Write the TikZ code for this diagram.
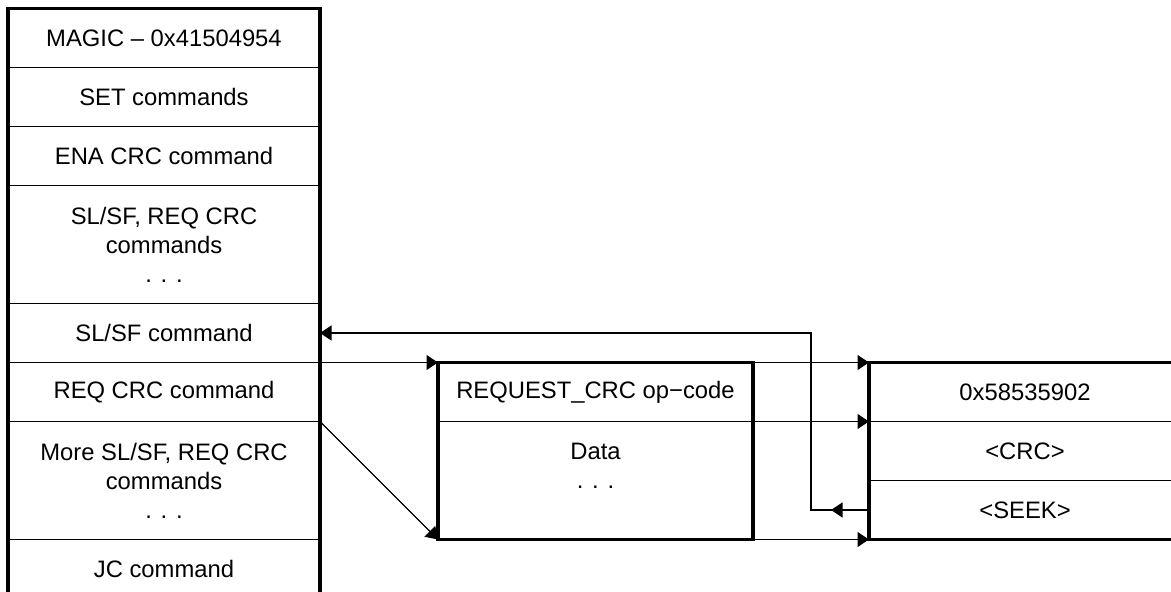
\documentclass[tikz,border=0pt]{standalone}
\usepackage{fontspec}
\setmainfont{Liberation Sans}
\usetikzlibrary{arrows.meta}
\begin{document}
\begin{tikzpicture}[x=1pt,y=-1pt,
  cell/.style={draw, line width=1.2pt, inner sep=0pt, outer sep=0pt, anchor=north west,
    align=center, font=\fontsize{23.8}{29}\selectfont, minimum height=59pt},
  colcell/.style={cell, minimum width=312pt},
  midcell/.style={cell, minimum width=315pt},
  frame/.style={draw, line width=3.6pt},
  conn/.style={line width=1.2pt},
  arr/.style={conn, -{Triangle[length=11.5pt,width=15pt]}}]
\useasboundingbox (0,0) rectangle (1171,592);
\clip (0,0) rectangle (1171,592);
% left column
\node[colcell] (magic) at (8,8.5) {MAGIC – 0x41504954};
\node[colcell] (set) at (8,67.5) {SET commands};
\node[colcell] (ena) at (8,126.5) {ENA CRC command};
\node[colcell, minimum height=118pt] (slsf) at (8,185.5) {SL/SF, REQ CRC\\commands\\. . .};
\node[colcell] (slcmd) at (8,303.5) {SL/SF command};
\node[colcell] (req) at (8,362.5) {REQ CRC command};
\node[colcell, minimum height=118pt] (more) at (8,421.5) {More SL/SF, REQ CRC\\commands\\. . .};
\node[colcell] (jc) at (8,539.5) {JC command};
\draw[frame] (magic.north west) rectangle (jc.south east);
% middle box
\node[midcell] (op) at (438,362.5) {REQUEST\_CRC op−code};
\node[midcell, minimum height=118pt] (data) at (438,421.5) {Data\\. . .\\\mbox{}};
\draw[frame] (op.north west) rectangle (data.south east);
% right box
\node[colcell] (magic2) at (869,362.5) {0x58535902};
\node[colcell] (crc) at (869,421.5) {<CRC>};
\node[colcell] (seek) at (869,480.5) {<SEEK>};
\draw[frame] (magic2.north west) rectangle (seek.south east);
% connectors
\draw[arr] (req.north east) -- (op.north west);
\draw[arr] (req.south east) -- (data.south west);
\draw[arr] (op.north east) -- (magic2.north west);
\draw[arr] (op.south east) -- (crc.north west);
\draw[arr] (data.south east) -- (seek.south west);
\coordinate (turn) at (811,510);
\draw[arr] (seek.west) -- (turn) |- (slcmd.east);
\draw[arr] (seek.west) -- ++(-38,0);
\end{tikzpicture}
\end{document}
